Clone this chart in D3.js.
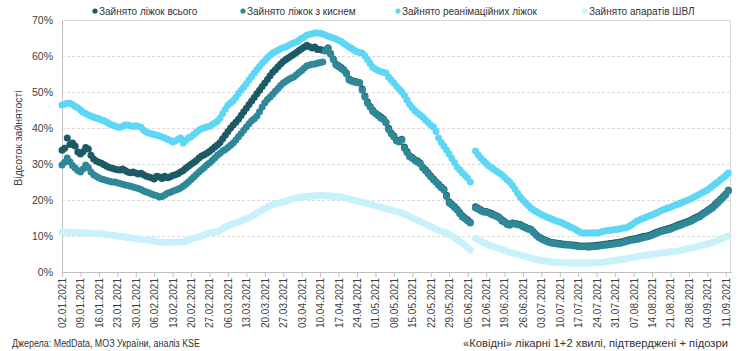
<!DOCTYPE html>
<html>
<head>
<meta charset="utf-8">
<script src="https://cdn.jsdelivr.net/npm/d3@7"></script>
<style>
  body { margin: 0; background: #fff; }
  svg { display: block; font-family: "Liberation Sans", Arial, sans-serif; }
</style>
</head>
<body>
<div id="chart"></div>
<script>
// first and last+1 day of the daily series
const firstDay = "02.01.2021"
const endDay = "13.09.2021"

const seriesNames = [
  "Зайнято ліжок всього",
  "Зайнято ліжок з киснем",
  "Зайнято реанімаційних ліжок",
  "Зайнято апаратів ШВЛ",
]

const tickLabels = [
  "02.01.2021", "09.01.2021", "16.01.2021", "23.01.2021", "30.01.2021",
  "06.02.2021", "13.02.2021", "20.02.2021", "27.02.2021", "06.03.2021",
  "13.03.2021", "20.03.2021", "27.03.2021", "03.04.2021", "10.04.2021",
  "17.04.2021", "24.04.2021", "01.05.2021", "08.05.2021", "15.05.2021",
  "22.05.2021", "29.05.2021", "05.06.2021", "12.06.2021", "19.06.2021",
  "26.06.2021", "03.07.2021", "10.07.2021", "17.07.2021", "24.07.2021",
  "31.07.2021", "07.08.2021", "14.08.2021", "21.08.2021", "28.08.2021",
  "04.09.2021", "11.09.2021",
]

const yTicks = [0, 0.1, 0.2, 0.3, 0.4, 0.5, 0.6, 0.7]

// daily occupancy, %, one row per week starting 02.01
const totalBeds = [
  33.8, 34.4, 37.2, 35.4, 35.8, 35.0, 33.3,
  32.8, 33.4, 34.6, 34.2, 32.4, 31.4, 30.8,
  30.5, 30.2, 29.8, 29.4, 29.0, 28.8, 28.6,
  28.4, 28.3, 28.6, 28.2, 27.8, 27.6, 27.8,
  27.5, 27.2, 27.4, 27.0, 26.6, 26.4, 26.2,
  25.8, 26.6, 26.4, 26.0, 26.6, 26.2, 26.4,
  26.8, 27.0, 27.3, 27.8, 28.2, 28.8, 29.4,
  29.9, 30.4, 31.0, 31.7, 32.2, 32.6, 33.0,
  33.5, 34.1, 34.7, 35.3, 36.0, 37.0, 38.0,
  39.0, 40.0, 40.8, 41.6, 42.4, 43.5, 44.5,
  45.5, 46.5, 47.5, 48.5, 49.5, 50.5, 51.5,
  52.5, 53.5, 54.5, 55.5, 56.2, 57.0, 57.8,
  58.5, 59.0, 59.5, 60.0, 60.5, 61.0, 61.5,
  62.0, 62.5, 63.0, 62.6, 62.2, 62.5, 61.8,
  61.8, 61.6, 61.6, 62.2, 60.7, 59.2, 57.8,
  57.3, 56.8, 56.2, 55.3, 53.6, 53.2, 53.0,
  52.8, 52.6, 50.8, 48.9, 47.2, 46.0, 44.9,
  44.2, 43.6, 43.1, 42.6, 41.6, 39.9, 38.6,
  37.8, 36.7, 36.3, 36.9, 34.7, 33.5, 32.3,
  31.8, 31.2, 30.8, 30.3, 29.1, 28.4, 27.6,
  26.7, 25.9, 25.1, 24.4, 23.6, 23.0, 21.3,
  19.5, 18.8, 18.2, 17.4, 16.5, 15.6, 15.0,
  14.5, 13.8, null, 18.1, 17.7, 17.3, 16.9,
  16.8, 16.6, 16.3, 15.9, 15.6, 15.2, 14.5,
  14.0, 13.5, 13.2, 13.6, 13.5, 13.3, 13.2,
  12.8, 12.4, 12.1, 11.9, 11.2, 10.4, 9.8,
  9.4, 9.0, 8.7, 8.4, 8.2, 8.1, 8.0,
  7.9, 7.8, 7.7, 7.6, 7.6, 7.5, 7.4,
  7.3, 7.2, 7.2, 7.2, 7.2, 7.3, 7.3,
  7.4, 7.5, 7.6, 7.7, 7.8, 7.9, 8.0,
  8.1, 8.2, 8.3, 8.5, 8.7, 8.9, 9.1,
  9.2, 9.3, 9.5, 9.7, 9.9, 10.0, 10.2,
  10.5, 10.8, 11.1, 11.4, 11.6, 11.8, 12.0,
  12.2, 12.5, 12.8, 13.1, 13.3, 13.6, 13.9,
  14.2, 14.5, 14.9, 15.3, 15.6, 16.1, 16.6,
  17.1, 17.6, 18.1, 18.8, 19.5, 20.2, 20.9,
  21.7, 22.7,
]

const oxygenBeds = [
  29.7, 30.5, 31.7, 30.6, 29.6, 28.9, 28.2,
  27.8, 28.6, 29.7, 29.0, 27.8, 27.0, 26.6,
  26.2, 25.8, 25.6, 25.4, 25.2, 25.0, 25.0,
  24.8, 24.6, 24.4, 24.2, 24.0, 23.8, 23.6,
  23.4, 23.2, 22.9, 22.5, 22.2, 22.0, 21.7,
  21.4, 21.2, 20.8, 21.0, 21.4, 21.9, 22.1,
  22.4, 22.7, 23.0, 23.3, 23.8, 24.4, 25.0,
  25.7, 26.4, 27.1, 27.8, 28.4, 29.0, 29.7,
  30.3, 31.0, 31.7, 32.4, 33.0, 33.6, 34.0,
  34.6, 35.2, 35.8, 36.7, 37.6, 38.5, 39.4,
  40.3, 41.2, 42.0, 42.6, 43.3, 44.5, 45.8,
  47.0, 47.9, 48.6, 49.4, 50.2, 51.0, 51.8,
  52.5, 53.0, 53.5, 53.9, 54.2, 54.8, 55.4,
  56.0, 56.7, 57.3, 57.5, 57.7, 57.8, 58.0,
  58.2, 58.3, 61.4, 62.2, 60.5, 59.0, 57.5,
  57.0, 56.5, 56.0, 55.0, 53.3, 53.0, 52.8,
  52.6, 52.5, 50.5, 48.6, 46.9, 45.8, 44.6,
  44.0, 43.4, 42.8, 42.4, 41.4, 39.6, 38.4,
  37.5, 36.4, 36.1, 36.7, 34.4, 33.2, 32.0,
  31.5, 31.0, 30.5, 30.0, 28.9, 28.1, 27.3,
  26.4, 25.6, 24.9, 24.1, 23.4, 22.8, 21.0,
  19.2, 18.6, 17.9, 17.2, 16.2, 15.3, 14.8,
  14.2, 13.6, null, 17.8, 17.4, 17.0, 16.7,
  16.6, 16.4, 16.0, 15.7, 15.4, 15.0, 14.2,
  13.8, 13.2, 13.0, 13.4, 13.3, 13.1, 13.0,
  12.6, 12.2, 11.9, 11.7, 11.0, 10.2, 9.6,
  9.2, 8.8, 8.5, 8.2, 8.0, 7.9, 7.8,
  7.7, 7.6, 7.5, 7.5, 7.4, 7.3, 7.2,
  7.1, 7.0, 7.0, 7.0, 6.9, 7.0, 7.0,
  7.1, 7.2, 7.3, 7.4, 7.5, 7.6, 7.7,
  7.8, 7.9, 8.0, 8.2, 8.4, 8.6, 8.8,
  8.9, 9.0, 9.2, 9.4, 9.6, 9.7, 9.9,
  10.2, 10.5, 10.8, 11.1, 11.3, 11.5, 11.7,
  11.9, 12.2, 12.5, 12.8, 13.0, 13.3, 13.6,
  13.9, 14.2, 14.6, 15.0, 15.3, 15.8, 16.3,
  16.8, 17.3, 17.8, 18.5, 19.2, 19.9, 20.6,
  21.4, 22.5,
]

const icuBeds = [
  46.4, 46.6, 46.9, 46.9, 46.5, 46.0, 45.6,
  45.0, 44.4, 44.0, 43.6, 43.3, 43.0, 42.8,
  42.6, 42.2, 42.0, 41.6, 41.2, 40.8, 40.6,
  40.3, 40.2, 40.5, 40.8, 40.8, 40.6, 40.4,
  40.6, 40.4, 40.2, 39.4, 38.9, 38.6, 38.4,
  38.2, 38.0, 37.8, 37.5, 37.2, 36.9, 36.6,
  36.1, 36.4, 36.9, 37.2, 35.8, 36.6, 37.3,
  37.6, 38.2, 38.8, 39.4, 39.8, 40.1, 40.3,
  40.5, 41.0, 41.4, 41.9, 42.8, 44.0, 45.2,
  46.3, 47.0, 47.6, 48.5, 49.6, 50.5, 51.4,
  52.3, 53.3, 54.3, 55.3, 56.2, 57.1, 58.0,
  58.7, 59.5, 60.2, 60.8, 61.2, 61.6, 62.0,
  62.3, 62.5, 62.9, 63.3, 63.6, 63.9, 64.4,
  64.9, 65.3, 65.8, 66.0, 66.2, 66.4, 66.4,
  66.3, 66.1, 65.8, 65.5, 65.3, 65.0, 64.7,
  64.4, 64.0, 63.5, 63.0, 62.5, 62.1, 61.6,
  61.2, 61.0, 60.8, 60.0, 59.0, 57.9, 56.9,
  56.4, 56.0, 55.7, 55.5, 55.3, 54.2, 53.3,
  52.5, 51.6, 50.8, 50.0, 49.0, 47.8, 46.5,
  45.6, 44.8, 44.2, 43.6, 43.0, 42.2, 41.5,
  40.8, 40.3, 39.0, 37.2, 36.0, 35.0, 33.9,
  32.8, 31.6, 30.4, 29.2, 28.4, 27.6, 26.8,
  26.1, 25.0, null, 33.6, 32.6, 31.7, 30.9,
  30.2, 29.5, 29.0, 28.5, 28.0, 27.5, 27.0,
  26.3, 25.6, 25.0, 24.0, 23.0, 21.9, 20.8,
  20.0, 19.2, 18.5, 17.8, 17.2, 16.8, 16.4,
  16.0, 15.6, 15.3, 15.0, 14.7, 14.4, 14.1,
  13.9, 13.6, 13.2, 12.9, 12.5, 12.2, 11.8,
  11.4, 11.0, 10.8, 10.8, 10.9, 10.8, 10.9,
  10.8, 11.0, 11.2, 11.4, 11.5, 11.6, 11.7,
  11.8, 11.9, 12.0, 12.2, 12.2, 12.6, 13.0,
  13.5, 14.0, 14.4, 14.7, 15.0, 15.3, 15.6,
  15.8, 16.2, 16.5, 16.9, 17.2, 17.5, 17.8,
  18.0, 18.3, 18.6, 18.9, 19.2, 19.5, 19.8,
  20.1, 20.4, 20.8, 21.2, 21.6, 22.0, 22.4,
  22.8, 23.3, 23.9, 24.5, 25.0, 25.6, 26.2,
  26.8, 27.5,
]

const ventilators = [
  11.1, 11.1, 11.0, 11.0, 11.1, 11.0, 10.9,
  10.9, 10.8, 10.8, 10.9, 10.8, 10.7, 10.7,
  10.6, 10.6, 10.5, 10.4, 10.3, 10.3, 10.2,
  10.0, 9.9, 9.8, 9.7, 9.6, 9.5, 9.4,
  9.3, 9.2, 9.1, 9.0, 8.9, 8.8, 8.7,
  8.6, 8.5, 8.3, 8.3, 8.2, 8.2, 8.3,
  8.3, 8.2, 8.3, 8.3, 8.3, 8.6, 8.9,
  9.2, 9.4, 9.6, 9.7, 10.0, 10.3, 10.6,
  10.8, 11.0, 11.1, 11.2, 11.6, 12.0, 12.5,
  12.8, 13.1, 13.4, 13.6, 13.9, 14.2, 14.6,
  14.8, 15.0, 15.4, 15.9, 16.4, 16.8, 17.2,
  17.6, 18.0, 18.4, 18.7, 18.9, 19.1, 19.3,
  19.4, 19.6, 19.9, 20.2, 20.4, 20.6, 20.7,
  20.8, 20.9, 21.0, 21.0, 21.1, 21.2, 21.2,
  21.3, 21.2, 21.2, 21.1, 21.1, 21.0, 21.0,
  21.0, 20.9, 20.7, 20.5, 20.3, 20.1, 19.9,
  19.7, 19.6, 19.4, 19.2, 19.0, 18.8, 18.6,
  18.4, 18.2, 18.0, 17.8, 17.6, 17.4, 17.2,
  17.0, 16.8, 16.6, 16.4, 16.1, 15.8, 15.4,
  15.1, 14.7, 14.3, 14.0, 13.6, 13.3, 13.0,
  12.6, 12.3, 11.9, 11.6, 11.3, 11.1, 10.8,
  10.4, 10.0, 9.5, 9.0, 8.5, 8.0, 7.4,
  6.8, 6.1, null, 9.4, 9.0, 8.6, 8.2,
  7.9, 7.5, 7.3, 7.0, 6.8, 6.5, 6.3,
  6.0, 5.8, 5.5, 5.3, 5.1, 4.9, 4.7,
  4.5, 4.3, 4.1, 3.9, 3.7, 3.5, 3.3,
  3.2, 3.1, 3.0, 2.9, 2.8, 2.7, 2.7,
  2.6, 2.6, 2.5, 2.5, 2.5, 2.5, 2.5,
  2.5, 2.5, 2.5, 2.5, 2.5, 2.5, 2.5,
  2.6, 2.6, 2.7, 2.8, 2.9, 3.0, 3.1,
  3.2, 3.3, 3.4, 3.5, 3.6, 3.8, 4.0,
  4.1, 4.2, 4.4, 4.5, 4.6, 4.7, 4.8,
  4.9, 5.0, 5.1, 5.2, 5.3, 5.4, 5.5,
  5.6, 5.6, 5.7, 5.8, 6.0, 6.2, 6.4,
  6.6, 6.7, 6.8, 7.0, 7.2, 7.4, 7.6,
  7.8, 8.0, 8.2, 8.5, 8.8, 9.1, 9.4,
  9.7, 10.0,
]

const seriesColors = ["#1d5a66", "#2f8898", "#5dd7f5", "#c8f1fb"]

const drawChart = () => {
  const parseDate = d3.timeParse("%d.%m.%Y")
  const dates = d3.timeDay.range(parseDate(firstDay), parseDate(endDay))

  const seriesValues = [totalBeds, oxygenBeds, icuBeds, ventilators]
  const series = seriesValues.map((values, i) => ({
    name: seriesNames[i],
    color: seriesColors[i],
    points: values
      .map((v, j) => ({ date: dates[j], value: v == null ? null : v / 100 }))
      .filter(d => d.value != null),
  }))

  const dateAccessor = d => d.date
  const valueAccessor = d => d.value

  let dimensions = {
    width: 740,
    height: 351,
    margin: {
      top: 20,
      right: 9,
      bottom: 79,
      left: 62,
    },
  }
  dimensions.boundedWidth = dimensions.width
    - dimensions.margin.left
    - dimensions.margin.right
  dimensions.boundedHeight = dimensions.height
    - dimensions.margin.top
    - dimensions.margin.bottom

  const wrapper = d3.select("#chart")
    .append("svg")
      .attr("width", dimensions.width)
      .attr("height", dimensions.height)
  const bounds = wrapper.append("g")
    .attr("transform", `translate(${dimensions.margin.left},${dimensions.margin.top})`)

  const xScale = d3.scaleTime()
    .domain([parseDate(firstDay), parseDate(endDay)])
    .range([0, dimensions.boundedWidth])
  const yScale = d3.scaleLinear()
    .domain([0, 0.7])
    .range([dimensions.boundedHeight, 0])

  // grid
  bounds.append("g")
    .selectAll("line")
    .data(yTicks.filter(t => t > 0 && t < 0.7))
    .join("line")
      .attr("x1", 0)
      .attr("x2", dimensions.boundedWidth)
      .attr("y1", d => Math.round(yScale(d)) + 0.5)
      .attr("y2", d => Math.round(yScale(d)) + 0.5)
      .attr("stroke", "#dcdcdc")
      .attr("stroke-dasharray", "3,2")

  // plot frame (top + right)
  bounds.append("path")
    .attr("d", `M0,0.5H${dimensions.boundedWidth - 0.5}V${dimensions.boundedHeight}`)
    .attr("fill", "none")
    .attr("stroke", "#d9d9d9")

  // y axis
  const yAxisGenerator = d3.axisLeft(yScale)
    .tickValues(yTicks)
    .tickFormat(d3.format(".0%"))
    .tickSize(0)
    .tickPadding(9)
  const yAxis = bounds.append("g")
    .call(yAxisGenerator)
  yAxis.select(".domain").attr("stroke", "#bfbfbf")
  yAxis.selectAll("text")
    .attr("fill", "#404040")
    .style("font-size", "10.5px")
    .style("font-family", "'Liberation Sans', Arial, sans-serif")

  // x axis
  const tickDates = tickLabels.map(parseDate)
  const xAxisGenerator = d3.axisBottom(xScale)
    .tickValues(tickDates)
    .tickFormat((d, i) => tickLabels[i])
    .tickSizeInner(5)
    .tickSizeOuter(0)
  const xAxis = bounds.append("g")
    .attr("transform", `translate(0,${dimensions.boundedHeight})`)
    .call(xAxisGenerator)
  xAxis.select(".domain").attr("stroke", "#bfbfbf")
  xAxis.selectAll(".tick line").attr("stroke", "#bfbfbf")
  xAxis.selectAll("text")
    .attr("fill", "#404040")
    .style("font-size", "10px")
    .style("font-family", "'Liberation Sans', Arial, sans-serif")
    .attr("text-anchor", "end")
    .attr("transform", "rotate(-90)")
    .attr("x", -6)
    .attr("y", 0)
    .attr("dy", "0.35em")

  // y title
  wrapper.append("text")
    .attr("transform", `translate(22,${dimensions.margin.top + dimensions.boundedHeight / 2 - 8}) rotate(-90)`)
    .attr("text-anchor", "middle")
    .attr("fill", "#404040")
    .style("font-size", "10.5px")
    .text("Відсоток зайнятості")

  // series as dots
  series.forEach(s => {
    bounds.append("g")
      .selectAll("circle")
      .data(s.points)
      .join("circle")
        .attr("cx", d => xScale(dateAccessor(d)))
        .attr("cy", d => yScale(valueAccessor(d)))
        .attr("r", 3.5)
        .attr("fill", s.color)
  })

  // legend
  const legendX = [95, 243, 398, 585]
  const legend = wrapper.append("g")
    .selectAll("g")
    .data(series)
    .join("g")
      .attr("transform", (d, i) => `translate(${legendX[i]},11)`)
  legend.append("circle")
    .attr("r", 2.6)
    .attr("fill", d => d.color)
  legend.append("text")
    .attr("x", 4)
    .attr("dy", "0.35em")
    .attr("fill", "#333")
    .style("font-size", "10px")
    .text(d => d.name)

  // footer
  wrapper.append("text")
    .attr("x", 12)
    .attr("y", 347)
    .attr("fill", "#333")
    .attr("textLength", 188)
    .attr("lengthAdjust", "spacingAndGlyphs")
    .style("font-size", "10px")
    .text("Джерела: MedData, МОЗ України, аналіз KSE")
  wrapper.append("text")
    .attr("x", 463)
    .attr("y", 347)
    .attr("fill", "#333")
    .attr("textLength", 265)
    .attr("lengthAdjust", "spacingAndGlyphs")
    .style("font-size", "10px")
    .text("«Ковідні» лікарні 1+2 хвилі, підтверджені + підозри")
}

drawChart()
</script>
</body>
</html>
